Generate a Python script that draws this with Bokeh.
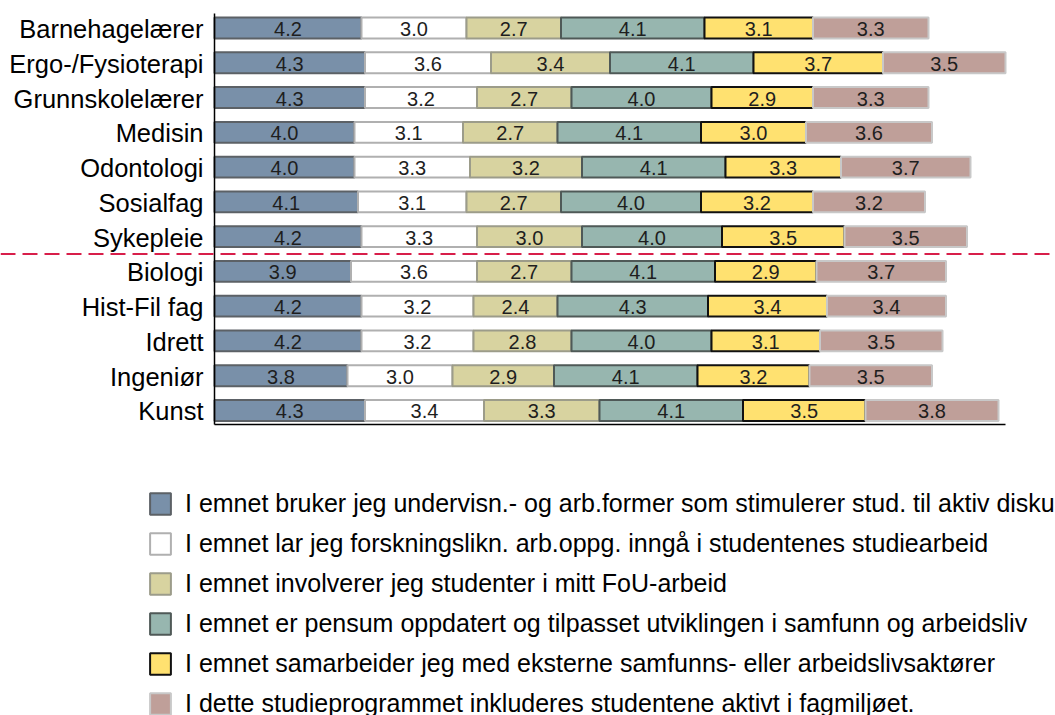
import numpy as np
from bokeh.plotting import figure
from bokeh.models import Range1d, Span, Legend, LegendItem, ColumnDataSource
from bokeh.core.properties import value
from bokeh.embed import file_html
from bokeh.resources import INLINE

categories = ["Barnehagelærer", "Ergo-/Fysioterapi", "Grunnskolelærer", "Medisin",
              "Odontologi", "Sosialfag", "Sykepleie", "Biologi", "Hist-Fil fag",
              "Idrett", "Ingeniør", "Kunst"]
series_names = [
    "I emnet bruker jeg undervisn.- og arb.former som stimulerer stud. til aktiv diskusjon",
    "I emnet lar jeg forskningslikn. arb.oppg. inngå i studentenes studiearbeid",
    "I emnet involverer jeg studenter i mitt FoU-arbeid",
    "I emnet er pensum oppdatert og tilpasset utviklingen i samfunn og arbeidsliv",
    "I emnet samarbeider jeg med eksterne samfunns- eller arbeidslivsaktører",
    "I dette studieprogrammet inkluderes studentene aktivt i fagmiljøet.",
]
s1 = [4.2, 4.3, 4.3, 4.0, 4.0, 4.1, 4.2, 3.9, 4.2, 4.2, 3.8, 4.3]
s2 = [3.0, 3.6, 3.2, 3.1, 3.3, 3.1, 3.3, 3.6, 3.2, 3.2, 3.0, 3.4]
s3 = [2.7, 3.4, 2.7, 2.7, 3.2, 2.7, 3.0, 2.7, 2.4, 2.8, 2.9, 3.3]
s4 = [4.1, 4.1, 4.0, 4.1, 4.1, 4.0, 4.0, 4.1, 4.3, 4.0, 4.1, 4.1]
s5 = [3.1, 3.7, 2.9, 3.0, 3.3, 3.2, 3.5, 2.9, 3.4, 3.1, 3.2, 3.5]
s6 = [3.3, 3.5, 3.3, 3.6, 3.7, 3.2, 3.5, 3.7, 3.4, 3.5, 3.5, 3.8]
first_group_size = 7

fills = ["#7990a9", "#ffffff", "#d8d3a0", "#97b6af", "#ffe170", "#bf9f99"]
lines = ["#5c6166", "#b0b0b0", "#9c9c8a", "#4f5957", "#111111", "#c8c8c8"]

FONT = "Liberation Sans"
W, H = 1055, 715
PX_X = 35.0
PX_Y = 34.77
x0_px = 214
row0_px = 27.5

x_start = -x0_px / PX_X
y_end = row0_px / PX_Y

p = figure(width=W, height=H, output_backend="svg", toolbar_location=None,
           x_range=Range1d(x_start, x_start + W / PX_X),
           y_range=Range1d(y_end - H / PX_Y, y_end),
           min_border=0, min_border_left=0, min_border_right=0,
           min_border_top=0, min_border_bottom=0)
p.xaxis.visible = False
p.yaxis.visible = False
p.xgrid.visible = False
p.ygrid.visible = False
p.outline_line_color = None
p.background_fill_color = "white"
p.border_fill_color = "white"

n = len(categories)
ys = -np.arange(n, dtype=float)
data = np.array([s1, s2, s3, s4, s5, s6])
cum = np.vstack([np.zeros(n), np.cumsum(data, axis=0)])
totals = cum[-1]

renderers = []
for k in range(6):
    src = ColumnDataSource(dict(y=ys, left=cum[k], right=cum[k + 1],
                                mid=(cum[k] + cum[k + 1]) / 2,
                                lab=["%.1f" % v for v in data[k]]))
    r = p.hbar(y="y", left="left", right="right", height=0.6, source=src,
               fill_color=fills[k], line_color=lines[k], line_width=2)
    renderers.append(r)
    p.text(x="mid", y="y", text="lab", source=src, text_align="center",
           text_baseline="middle", text_font=value(FONT), text_font_size="20px",
           text_color="#1e1e1e", y_offset=1)

# axes lines
p.segment(x0=[0], y0=[ys[-1] - 0.4], x1=[0], y1=[ys[0] + 0.42],
          line_color="black", line_width=1.5)
p.segment(x0=[0], y0=[ys[-1] - 0.4], x1=[totals.max()], y1=[ys[-1] - 0.4],
          line_color="black", line_width=1.5)

# category labels
p.text(x=[0] * n, y=ys, text=categories, text_align="right", text_baseline="middle",
       text_font=value(FONT), text_font_size="25.5px", text_color="black", x_offset=-11,
       y_offset=1)

# divider between groups
p.add_layout(Span(location=-(first_group_size - 0.5), dimension="width",
                  line_color="#d81e4a", line_width=2, line_dash="15 7"))

legend = Legend(items=[LegendItem(label=series_names[k], renderers=[renderers[k]])
                       for k in range(6)],
                location=(147, -3), orientation="vertical",
                glyph_width=26, glyph_height=27, label_height=27, spacing=11,
                label_standoff=12, padding=0, margin=0,
                label_text_font=FONT, label_text_font_size="25px",
                label_text_color="black",
                border_line_color=None, background_fill_alpha=0)
p.add_layout(legend, "center")

open("out.html", "w").write(file_html(p, INLINE))
